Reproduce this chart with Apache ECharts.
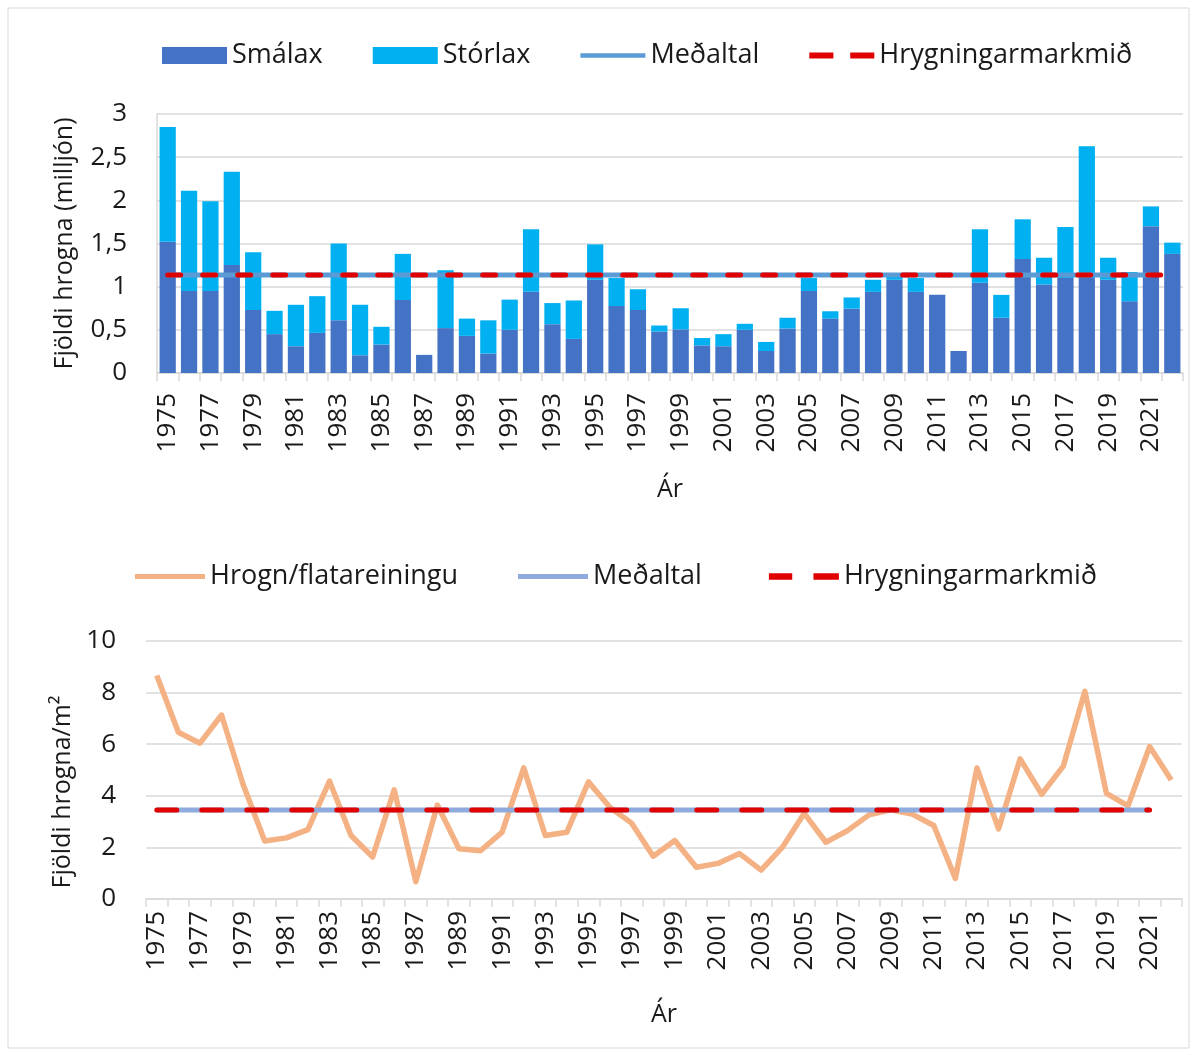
<!DOCTYPE html>
<html><head><meta charset="utf-8">
<script src="https://cdn.jsdelivr.net/npm/echarts@6/dist/echarts.min.js"></script>
<style>html,body{margin:0;padding:0;background:#fff}#c{width:1198px;height:1057px}</style>
</head><body><div id="c"></div>
<script>
const years = [];
for (let y = 1975; y <= 2022; y++) years.push(String(y));

const smalax = [1.52,0.95,0.95,1.25,0.73,0.45,0.31,0.465,0.61,0.205,
  0.33,0.845,0.21,0.52,0.43,0.225,0.50,0.94,0.565,0.395,
  1.08,0.775,0.73,0.48,0.505,0.32,0.31,0.50,0.255,0.515,
  0.95,0.63,0.745,0.94,1.08,0.94,0.905,0.255,1.045,0.64,
  1.32,1.025,1.10,1.10,1.08,0.83,1.70,1.38];
const storlax = [1.33,1.16,1.04,1.08,0.67,0.27,0.48,0.425,0.89,0.585,
  0.205,0.535,0,0.67,0.20,0.385,0.35,0.725,0.245,0.445,
  0.41,0.325,0.24,0.07,0.245,0.085,0.14,0.07,0.105,0.125,
  0.15,0.085,0.13,0.14,0.04,0.16,0,0,0.62,0.265,
  0.46,0.31,0.59,1.525,0.255,0.34,0.23,0.13];
const hrognM2 = [8.66,6.46,6.04,7.13,4.44,2.25,2.37,2.69,4.57,2.46,
  1.63,4.23,0.67,3.64,1.95,1.87,2.59,5.08,2.46,2.59,
  4.54,3.55,2.94,1.66,2.27,1.23,1.38,1.76,1.12,2.02,
  3.32,2.20,2.65,3.26,3.46,3.29,2.85,0.80,5.08,2.72,
  5.43,4.06,5.15,8.05,4.09,3.61,5.91,4.61];
const medaltalTop = 1.135;   // mean, million eggs (1975-2021)
const markmidTop = 1.135;    // spawning target, million eggs
const medaltalBottom = 3.45; // mean eggs/m2
const markmidBottom = 3.45;  // target eggs/m2
const topTicks = ['0','0,5','1','1,5','2','2,5','3'];

const meanTopData = years.map((y,i) => i < years.length - 1 ? medaltalTop : null);
const targetTopData = years.map(() => markmidTop);
const meanBotData = years.map((y,i) => i < years.length - 1 ? medaltalBottom : null);
const targetBotData = years.map((y,i) => i < years.length - 1 ? markmidBottom : null);

const FONT = 'Open Sans';
const txt = {fontFamily: FONT, fontSize: 25, color: '#1a1a1a'};
const tick = {fontFamily: FONT, fontSize: 26, color: '#1a1a1a'};
const legTxt = {fontFamily: FONT, fontSize: 27, color: '#1a1a1a'};

const solidIcon = 'path://M0,0h70v5h-70z';
const dashIconTop = 'path://M0,0h20v5h-20z M34,0h20v5h-20z';
const dashIconBot = 'path://M0,0h22v6h-22z M42,0h24v6h-24z';

const chart = echarts.init(document.getElementById('c'), null, {renderer: 'canvas'});
const xCommon = {
  type: 'category', data: years, boundaryGap: true,
  axisLine: {show: true, lineStyle: {color: '#d9d9d9', width: 1.5}},
  axisTick: {show: true, interval: 0, length: 8, lineStyle: {color: '#d9d9d9', width: 1.5}},
  axisLabel: Object.assign({interval: 1, rotate: 90}, tick),
  name: 'Ár', nameLocation: 'middle', nameTextStyle: txt
};
chart.setOption({
  animation: false,
  backgroundColor: '#fff',
  graphic: [{type: 'rect', shape: {x: 8, y: 8, width: 1181, height: 1040},
    style: {fill: 'none', stroke: '#d9d9d9', lineWidth: 1}}],
  legend: [
    {top: 37, left: 157, itemWidth: 65, itemHeight: 17, itemGap: 50, textStyle: legTxt,
     data: [{name: 'Smálax', icon: 'rect'}, {name: 'Stórlax', icon: 'rect'},
            {name: 'Meðaltal', icon: solidIcon}, {name: 'Hrygningarmarkmið', icon: dashIconTop}]},
    {top: 558, left: 130, itemWidth: 70, itemHeight: 17, itemGap: 60, textStyle: legTxt,
     data: [{name: 'Hrogn/flatareiningu', icon: solidIcon}, {name: 'Meðaltal ', icon: solidIcon},
            {name: 'Hrygningarmarkmið ', icon: dashIconBot}]}
  ],
  grid: [
    {left: 157, right: 15, top: 114, height: 259, containLabel: false},
    {left: 146, right: 16, top: 641, height: 258, containLabel: false}
  ],
  xAxis: [
    Object.assign({}, xCommon, {gridIndex: 0, nameGap: 104,
      axisLabel: Object.assign({interval: 1, rotate: 90, margin: 20}, tick)}),
    Object.assign({}, xCommon, {gridIndex: 1, nameGap: 103,
      axisLabel: Object.assign({interval: 1, rotate: 90, margin: 12}, tick)})
  ],
  yAxis: [
    {type: 'value', gridIndex: 0, min: 0, max: 3, interval: 0.5,
     axisLine: {show: true, lineStyle: {color: '#d9d9d9', width: 1.5}},
     splitLine: {lineStyle: {color: '#d9d9d9', width: 1.5}},
     axisLabel: Object.assign({margin: 30, formatter: v => topTicks[Math.round(v * 2)]}, tick),
     name: 'Fjöldi hrogna (milljón)', nameLocation: 'middle', nameGap: 80, nameTextStyle: txt},
    {type: 'value', gridIndex: 1, min: 0, max: 10, interval: 2,
     axisLine: {show: false},
     splitLine: {lineStyle: {color: '#d9d9d9', width: 1.5}},
     axisLabel: Object.assign({margin: 30}, tick),
     name: 'Fjöldi hrogna/m²', nameLocation: 'middle', nameGap: 64,
     nameTextStyle: Object.assign({padding: [0, 44, 0, 0]}, txt)}
  ],
  series: [
    {name: 'Smálax', type: 'bar', stack: 'a', xAxisIndex: 0, yAxisIndex: 0, data: smalax,
     barCategoryGap: '24%', itemStyle: {color: '#4472C4'}},
    {name: 'Stórlax', type: 'bar', stack: 'a', xAxisIndex: 0, yAxisIndex: 0, data: storlax,
     barCategoryGap: '24%', itemStyle: {color: '#00B0F0'}},
    {name: 'Meðaltal', type: 'line', xAxisIndex: 0, yAxisIndex: 0, data: meanTopData,
     symbol: 'none', lineStyle: {color: '#5B9BD5', width: 5}, itemStyle: {color: '#5B9BD5'}},
    {name: 'Hrygningarmarkmið', type: 'line', xAxisIndex: 0, yAxisIndex: 0, data: targetTopData,
     symbol: 'none', lineStyle: {color: '#E00000', width: 5, type: [13, 22], cap: 'round'}, itemStyle: {color: '#E00000'}},
    {name: 'Hrogn/flatareiningu', type: 'line', xAxisIndex: 1, yAxisIndex: 1, data: hrognM2,
     symbol: 'none', lineStyle: {color: '#F4B183', width: 5.5, join: 'round'}, itemStyle: {color: '#F4B183'}},
    {name: 'Meðaltal ', type: 'line', xAxisIndex: 1, yAxisIndex: 1, data: meanBotData,
     symbol: 'none', lineStyle: {color: '#8FAADC', width: 5}, itemStyle: {color: '#8FAADC'}},
    {name: 'Hrygningarmarkmið ', type: 'line', xAxisIndex: 1, yAxisIndex: 1, data: targetBotData,
     symbol: 'none', lineStyle: {color: '#E00000', width: 5, type: [20, 25], cap: 'round'}, itemStyle: {color: '#E00000'}}
  ]
});
</script></body></html>
